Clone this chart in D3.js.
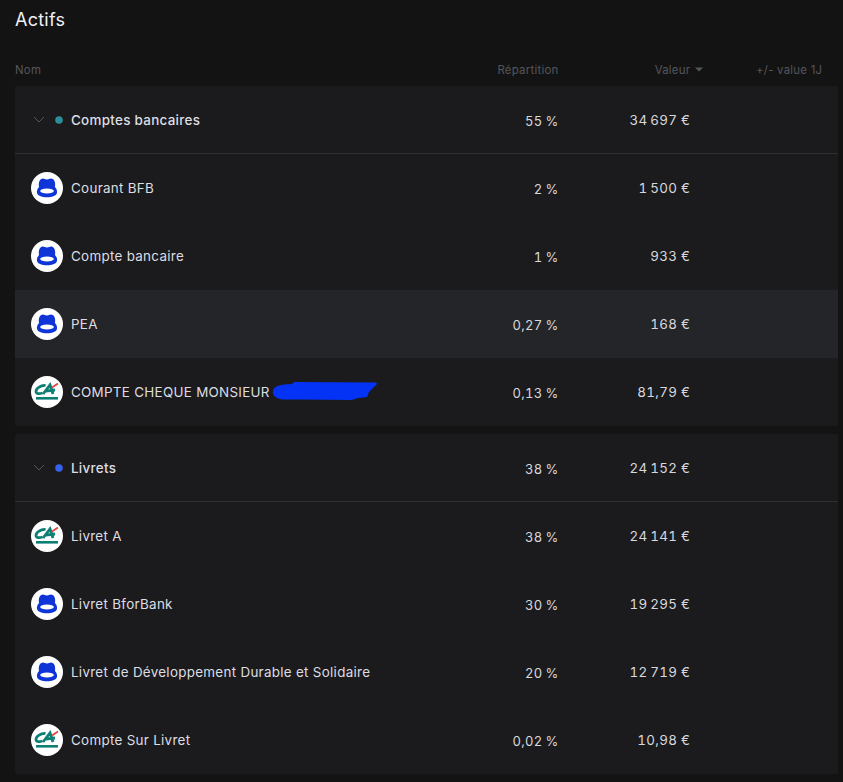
<!DOCTYPE html>
<html><head><meta charset="utf-8">
<script src="https://cdn.jsdelivr.net/npm/d3@7"></script>
<style>html,body{margin:0;padding:0;background:#131314;overflow:hidden}svg{display:block}text{font-family:Inter,"Noto Sans",sans-serif}.n{font-variant-numeric:tabular-nums}.s{word-spacing:-0.8px;font-size:13px}</style>
</head><body><svg id="c" width="843" height="782"></svg>
<script>
const title = "Actifs";
const columns = ["Nom","Répartition","Valeur","+/- value 1J"];
const groupNames = ["Comptes bancaires","Livrets"];
const groupColors = ["#2a8f96","#3563e9"];
const groupShares = ["55 %","38 %"];
const groupValues = ["34\u2009697 €","24\u2009152 €"];
const rowNames = [
 ["Courant BFB","Compte bancaire","PEA","COMPTE CHEQUE MONSIEUR"],
 ["Livret A","Livret BforBank","Livret de Développement Durable et Solidaire","Compte Sur Livret"]];
const rowShares = [["2 %","1 %","0,27 %","0,13 %"],["38 %","30 %","20 %","0,02 %"]];
const rowValues = [["1\u2009500 €","933 €","168 €","81,79 €"],["24\u2009141 €","19\u2009295 €","12\u2009719 €","10,98 €"]];
const rowBanks = [["bfb","bfb","bfb","ca"],["ca","bfb","bfb","ca"]];
const highlighted = "PEA";

const svg = d3.select("#c");
const W=843,H=782;
const defs = svg.append("defs");
svg.append("rect").attr("width",W).attr("height",H).attr("fill","#131314");

// logos
const bfb = defs.append("g").attr("id","bfb");
bfb.append("circle").attr("r",16).attr("fill","#fff");
bfb.append("path").attr("fill","#0f35d8")
 .attr("d","M-8,-1 C-8.8,-6 -7,-9.5 -4,-9.5 C-2.5,-9.5 -2,-8.6 0,-8.6 C2,-8.6 2.5,-9.5 4,-9.5 C7,-9.5 8.8,-6 8,-1 C9.8,1 10.6,3.5 9.8,5.5 C8.5,8.2 5,9.2 0,9.2 C-5,9.2 -8.5,8.2 -9.8,5.5 C-10.6,3.5 -9.8,1 -8,-1 Z");
bfb.append("ellipse").attr("cy",3).attr("rx",6.8).attr("ry",2.6).attr("fill","#fff");
const ca = defs.append("g").attr("id","ca");
ca.append("circle").attr("r",16).attr("fill","#fff");
ca.append("path").attr("fill","none").attr("stroke","#0d7f74").attr("stroke-width",2.8)
 .attr("d","M-1.5,-6.5 C-6,-7 -11,-3.5 -11,-0.5 C-11,2 -7.5,2 -4.5,1");
ca.append("path").attr("fill","none").attr("stroke","#0d7f74").attr("stroke-width",2.8)
 .attr("d","M-4,2 L3,-7 L6,2 M-1.5,-1 L8,-2");
ca.append("path").attr("fill","none").attr("stroke","#e2453c").attr("stroke-width",1.8).attr("d","M5,-4.5 L11,-8.5");
ca.append("rect").attr("x",-11).attr("y",5).attr("width",22).attr("height",2.6).attr("fill","#0d7f74");

const txt = "#dedee2";
const num = "#d8d8dc";
const xName=71, xShare=558.5, xValue=690.3;
const fs=13.4, ls=0.3;

// column headers
const colX = d3.scaleOrdinal().domain(columns).range([15,558.5,690.3,822.3]);
const colA = d3.scaleOrdinal().domain(columns).range(["start","end","end","end"]);
svg.selectAll("text.col").data(columns).join("text").attr("class","col")
 .attr("x",d=>colX(d)).attr("y",74).attr("text-anchor",d=>colA(d))
 .attr("font-size",11.4).attr("letter-spacing",0.25).attr("fill","#55565b").text(d=>d);
svg.append("path").attr("d","M695,67.5 L703,67.5 L699,71.5 Z").attr("fill","#55565b");
svg.append("text").attr("x",15).attr("y",26).attr("font-size",18).attr("letter-spacing",0.25).attr("fill","#f1f1f3").text(title);

const cardY = d3.scaleOrdinal().domain(groupNames).range([86,434]);
const cardH = 340, headH = 67.5, rowH = 68;
const rowY = d3.scaleBand().domain(d3.range(4)).range([headH+0.5,cardH]).padding(0);

function label(sel,x,y,anchor,cls){
  return sel.append("text").attr("x",x).attr("y",y).attr("text-anchor",anchor)
    .attr("class",cls).attr("font-size",fs).attr("letter-spacing",ls);
}
groupNames.forEach((name,gi)=>{
  const g = svg.append("g").attr("transform",`translate(0,${cardY(name)})`);
  g.append("rect").attr("x",15).attr("y",0).attr("width",823).attr("height",cardH).attr("rx",2).attr("fill","#1b1b1e");
  g.append("rect").attr("x",15).attr("y",headH-0.5).attr("width",823).attr("height",1).attr("fill","#2e2f33");
  g.append("path").attr("d","M34,31 L39,36 L44,31").attr("fill","none").attr("stroke","#55565b").attr("stroke-width",1);
  g.append("circle").attr("cx",59).attr("cy",34).attr("r",3.8).attr("fill",groupColors[gi]);
  label(g,xName,39,"start",null).attr("font-weight",500).attr("fill",txt).text(name);
  label(g,xShare,39.5,"end","n s").attr("fill",num).text(groupShares[gi]);
  label(g,xValue,39,"end","n").attr("fill",num).text(groupValues[gi]);
  const rows = g.selectAll("g.row").data(rowNames[gi].map((n,i)=>({n,i,s:rowShares[gi][i],v:rowValues[gi][i],b:rowBanks[gi][i]})))
    .join("g").attr("class","row").attr("transform",d=>`translate(0,${rowY(d.i)})`);
  rows.filter(d=>d.n===highlighted).append("rect").attr("x",15).attr("width",823).attr("height",rowH).attr("fill","#242528");
  rows.append("use").attr("href",d=>"#"+d.b).attr("x",47).attr("y",34);
  rows.each(function(d){
    const r=d3.select(this);
    label(r,xName,39,"start",null).attr("fill",txt).text(d.n);
    label(r,xShare,39.5,"end","n s").attr("fill",num).text(d.s);
    label(r,xValue,39,"end","n").attr("fill",num).text(d.v);
  });
});
// redaction scribble
svg.append("path").attr("fill","#0433f5")
 .attr("d","M273,391 C274,386 280,384.5 292,384 L294,382 L376,382.5 L377,384 L372,389 L369,392 L367,397 L358,398 L352,400 L300,399.5 L282,399.5 C276,398.5 272,395 273,391 Z");
</script></body></html>
